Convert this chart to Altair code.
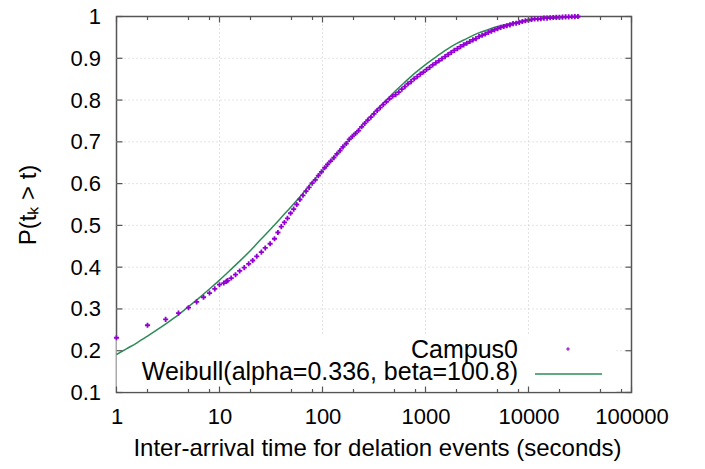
import altair as alt
import pandas as pd

# ---------------- data ----------------
campus_t = [1, 2, 3, 4, 5, 6, 7, 8, 9, 10, 11, 11.7, 12, 13, 14.3, 15.7, 17.4, 19.2, 21, 23,
            25.5, 27.8, 31, 34.2, 36.9,
            39.8, 42.7, 45.7, 49.0, 52.5, 56.2, 60.3, 64.6, 69.2, 74.1, 79.4, 85.1, 91.2, 97.7,
            105, 112, 120, 129, 138, 148, 158, 170, 182, 195, 209, 224, 240, 257, 275, 295,
            316, 339, 363, 389, 417, 447, 479, 513, 550, 589, 631, 676, 724, 776, 832, 891,
            955, 1023, 1096, 1175, 1259, 1349, 1445, 1549, 1660, 1778, 1905, 2042, 2188, 2344,
            2512, 2692, 2884, 3090, 3311, 3548, 3802, 4074, 4365, 4677, 5012, 5370, 5754,
            6166, 6607, 7079, 7586, 8128, 8710, 9333, 10000, 10715, 11482, 12303, 13183,
            14125, 15136, 16218, 17378, 18621, 19953, 21380, 22909, 24547, 26303, 28184, 30200]
campus_p = [0.231, 0.261, 0.275, 0.290, 0.303, 0.317, 0.328, 0.338, 0.348, 0.358, 0.362, 0.366, 0.368, 0.374, 0.382, 0.391, 0.399, 0.408, 0.416, 0.426,
            0.436, 0.446, 0.456, 0.468, 0.483,
            0.497, 0.507, 0.517, 0.529, 0.539, 0.550, 0.562, 0.572, 0.582, 0.591, 0.601, 0.609, 0.619, 0.628,
            0.638, 0.646, 0.654, 0.662, 0.671, 0.679, 0.688, 0.696, 0.706, 0.713, 0.720, 0.727, 0.736, 0.744, 0.752, 0.759,
            0.767, 0.775, 0.782, 0.789, 0.796, 0.803, 0.809, 0.813, 0.819, 0.826, 0.832, 0.839, 0.844, 0.851, 0.856, 0.862,
            0.867, 0.873, 0.878, 0.884, 0.889, 0.894, 0.899, 0.904, 0.909, 0.914, 0.919, 0.923, 0.928, 0.932,
            0.936, 0.940, 0.944, 0.947, 0.952, 0.955, 0.958, 0.962, 0.965, 0.968, 0.971, 0.974, 0.976,
            0.978, 0.980, 0.983, 0.984, 0.986, 0.988, 0.990, 0.991, 0.993, 0.994, 0.994, 0.995,
            0.996, 0.996, 0.997, 0.9975, 0.998, 0.998, 0.9985, 0.999, 0.999, 0.9995, 0.9997, 1.0]

weib_t = [1, 1.26, 1.58, 2, 2.51, 3.16, 3.98, 5.01, 6.31, 7.94, 10, 12.6, 15.8, 20, 25.1, 31.6,
          39.8, 50.1, 63.1, 79.4, 100, 126, 158, 200, 251, 316, 398, 501, 631, 794, 1000, 1259,
          1585, 1995, 2512, 3162, 3981, 5012, 6310, 7943, 10000, 12589, 15849, 19953, 25119, 31623]
weib_p = [0.191, 0.205, 0.219, 0.235, 0.251, 0.268, 0.286, 0.306, 0.326, 0.347, 0.369, 0.392,
          0.415, 0.440, 0.466, 0.492, 0.519, 0.546, 0.574, 0.603, 0.631, 0.660, 0.688, 0.716,
          0.743, 0.770, 0.795, 0.820, 0.843, 0.865, 0.885, 0.903, 0.920, 0.935, 0.947, 0.959,
          0.968, 0.976, 0.982, 0.987, 0.991, 0.994, 0.996, 0.997, 0.998, 0.999]

x_major = [1, 10, 100, 1000, 10000, 100000]
x_minor = [m * d for d in [1, 10, 100, 1000, 10000] for m in (2, 5, 8)]
y_major = [0.1, 0.2, 0.3, 0.4, 0.5, 0.6, 0.7, 0.8, 0.9, 1.0]
x_grid = [10, 100, 1000, 10000]
y_grid = [0.2, 0.3, 0.4, 0.5, 0.6, 0.7, 0.8, 0.9]
legend_labels = ["Campus0", "Weibull(alpha=0.336, beta=100.8)"]

x_title = "Inter-arrival time for delation events (seconds)"
y_title = "P(t\u2096 > t)"

# ---------------- styling ----------------
W, H = 515, 376
FONT = "Liberation Sans"
PURPLE = "#9400d3"
GREEN = "#2e8b57"
FRAME = "#555555"
xs = alt.Scale(type="log", domain=[1, 100000])
ys = alt.Scale(domain=[0.1, 1.0])
PLUS = "M-1,0L1,0M0,-1L0,1"

xax = alt.Axis(
    values=x_major, format="d", ticks=False, domain=False, grid=False,
    labelFont=FONT, labelFontSize=22, labelColor="black", labelPadding=24,
    labelBaseline="middle", labelFlush=False, labelOverlap=False,
    title=x_title, titleFont=FONT, titleFontSize=24, titleFontWeight="normal",
    titleColor="black", titleX=W / 2 + 3, titleY=56, titleBaseline="middle", titleAlign="center")
yax = alt.Axis(
    values=y_major, format="~g", ticks=False, domain=False, grid=False,
    labelFont=FONT, labelFontSize=22, labelColor="black", labelPadding=16,
    labelFlush=False, labelOverlap=False,
    title=y_title, titleFont=FONT, titleFontSize=24, titleFontWeight="normal",
    titleColor="black", titleAngle=270, titleX=-88, titleY=H / 2,
    titleBaseline="middle", titleAlign="center")


def X(field):
    return alt.X(field, scale=xs, axis=xax, title=x_title)


def Y(field):
    return alt.Y(field, scale=ys, axis=yax, title=y_title)


camp = pd.DataFrame({"t": campus_t, "p": campus_p})
weib = pd.DataFrame({"t": weib_t, "p": weib_p})

grid_x = alt.Chart(pd.DataFrame({"t": x_grid})).mark_rule(
    color="#c8c8c8", strokeDash=[1, 3], strokeWidth=1
).encode(x=X("t:Q"), y=alt.value(0), y2=alt.value(H))

grid_y = alt.Chart(pd.DataFrame({"p": y_grid})).mark_rule(
    color="#c8c8c8", strokeDash=[1, 3], strokeWidth=1
).encode(y=Y("p:Q"), x=alt.value(0), x2=alt.value(W))

legend_bg = alt.Chart(pd.DataFrame({"a": [0]})).mark_rect(color="white").encode(
    x=alt.value(0), x2=alt.value(500), y=alt.value(319), y2=alt.value(H - 1)
)

weib_line = alt.Chart(weib).mark_line(color=GREEN, strokeWidth=1.5, interpolate="monotone").encode(
    x=X("t:Q"), y=Y("p:Q"))

camp_pts = alt.Chart(camp).mark_point(
    shape=PLUS, filled=False, color=PURPLE, size=26, strokeWidth=1.8, opacity=1
).encode(x=X("t:Q"), y=Y("p:Q"))

tick_col = FRAME
bx_major = alt.Chart(pd.DataFrame({"t": x_major})).mark_rule(color=tick_col, strokeWidth=1.2).encode(
    x=X("t:Q"), y=alt.value(H), y2=alt.value(H - 6))
bx_minor = alt.Chart(pd.DataFrame({"t": x_minor})).mark_rule(color=tick_col, strokeWidth=1.2).encode(
    x=X("t:Q"), y=alt.value(H), y2=alt.value(H - 3.5))
tx_major = alt.Chart(pd.DataFrame({"t": x_major})).mark_rule(color=tick_col, strokeWidth=1.2).encode(
    x=X("t:Q"), y=alt.value(0), y2=alt.value(6))
tx_minor = alt.Chart(pd.DataFrame({"t": x_minor})).mark_rule(color=tick_col, strokeWidth=1.2).encode(
    x=X("t:Q"), y=alt.value(0), y2=alt.value(3.5))
ly_ticks = alt.Chart(pd.DataFrame({"p": y_major})).mark_rule(color=tick_col, strokeWidth=1.2).encode(
    y=Y("p:Q"), x=alt.value(0), x2=alt.value(6))
ry_ticks = alt.Chart(pd.DataFrame({"p": y_major})).mark_rule(color=tick_col, strokeWidth=1.2).encode(
    y=Y("p:Q"), x=alt.value(W), x2=alt.value(W - 6))

leg_text1 = alt.Chart(pd.DataFrame({"label": legend_labels[:1]})).mark_text(
    align="right", baseline="middle", font=FONT, fontSize=25, color="black"
).encode(text="label:N", x=alt.value(401.5), y=alt.value(333))
leg_text2 = alt.Chart(pd.DataFrame({"label": legend_labels[1:]})).mark_text(
    align="right", baseline="middle", font=FONT, fontSize=25, color="black"
).encode(text="label:N", x=alt.value(401.5), y=alt.value(355))
leg_pt = alt.Chart(pd.DataFrame({"label": legend_labels[:1]})).mark_point(
    shape=PLUS, filled=False, color=PURPLE, size=14, strokeWidth=1.2, opacity=1
).encode(x=alt.value(451.5), y=alt.value(332.5))
leg_line = alt.Chart(pd.DataFrame({"label": legend_labels[1:]})).mark_rule(
    color=GREEN, strokeWidth=1.5
).encode(x=alt.value(418.5), x2=alt.value(485.5), y=alt.value(357.5))

chart = alt.layer(
    grid_x, grid_y, legend_bg, weib_line, camp_pts,
    bx_major, bx_minor, tx_major, tx_minor, ly_ticks, ry_ticks,
    leg_text1, leg_text2, leg_pt, leg_line,
).properties(
    width=W, height=H, autosize="none",
    padding={"left": 108.5, "top": 8.5, "right": 62, "bottom": 68},
    background="white",
).configure_view(stroke=FRAME, strokeWidth=1.5)

chart.save("out.html", embed_options={"renderer": "svg", "actions": False})
